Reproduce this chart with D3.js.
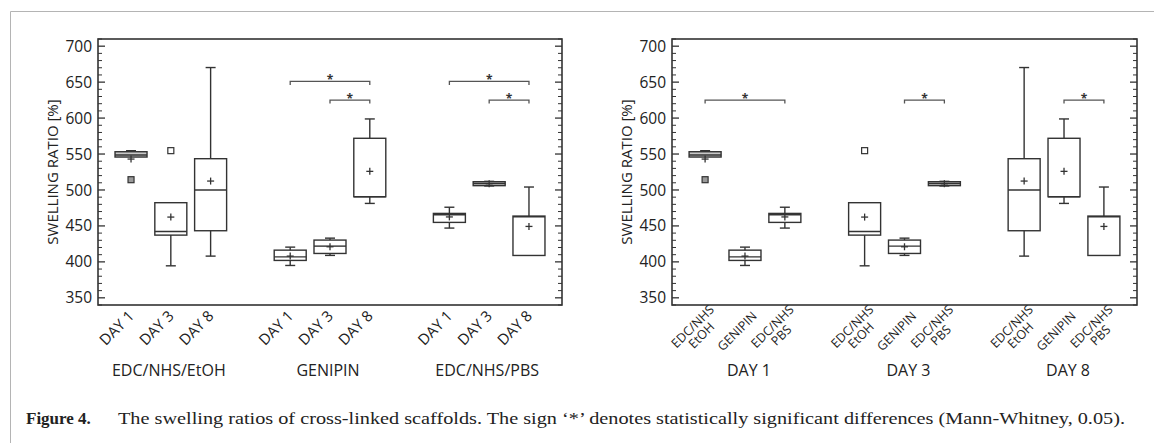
<!DOCTYPE html>
<html><head><meta charset="utf-8">
<script src="https://cdn.jsdelivr.net/npm/d3@7"></script>
<style>
html,body{margin:0;padding:0;background:#fff;}
svg{display:block;}
</style></head>
<body>
<svg id="chart" width="1154" height="443"></svg>
<script>
// ---- data (order: EtOH D1, D3, D8, GENIPIN D1, D3, D8, PBS D1, D3, D8) ----
const treatments = ["EDC/NHS/EtOH", "GENIPIN", "EDC/NHS/PBS"];
const days = ["DAY 1", "DAY 3", "DAY 8"];
const whiskerLow  = [545.8, 394.5, 408.0, 395.0, 409.0, 481.3, 447.0, 505.6, 408.9];
const q1          = [545.8, 437.2, 443.3, 402.0, 411.7, 490.6, 454.9, 506.0, 408.9];
const median      = [548.6, 442.3, 500.0, 407.0, 421.9, 490.6, 465.5, 509.0, 462.7];
const q3          = [553.2, 482.3, 543.5, 416.3, 430.3, 571.9, 467.4, 511.5, 463.7];
const whiskerHigh = [554.6, 482.3, 670.3, 420.5, 433.0, 598.8, 476.0, 512.0, 504.1];
const means       = [543.0, 462.3, 512.4, 408.0, 421.0, 525.9, 462.5, 508.7, 449.3];
const outliers    = [[514.3], [554.7], [], [], [], [], [], [], []];
const yTicks = [350, 400, 450, 500, 550, 600, 650, 700];
const yTitle = "SWELLING RATIO [%]";
// right panel: grouped by day
const rightTickLabels = [["EDC/NHS","EtOH"], ["GENIPIN"], ["EDC/NHS","PBS"]];
// significance brackets: [from index, to index, level value]
const bracketsLeft  = [[3, 5, 651], [4, 5, 625], [6, 8, 651], [7, 8, 625]];
const bracketsRight = [[0, 6, 625], [4, 7, 625], [5, 8, 625]]; // in dataset indices
const caption1 = "Figure 4.";
const caption2 = "The swelling ratios of cross-linked scaffolds. The sign \u2018*\u2019 denotes statistically significant differences (Mann-Whitney, 0.05).";

// ---- layout ----
const svg = d3.select("#chart");
const Y0 = 39, Y1 = 305;
const y = d3.scaleLinear().domain([340, 710]).range([Y1, Y0]);
const lineCol = "#333", textCol = "#222";
const font = "'Open Sans', 'DejaVu Sans', sans-serif";

// outer frame lines
svg.append("line").attr("x1", 10.5).attr("x2", 1154).attr("y1", 11.5).attr("y2", 11.5).attr("stroke", "#b4b4b4").attr("stroke-width", 1);
svg.append("line").attr("x1", 10.5).attr("x2", 10.5).attr("y1", 11.5).attr("y2", 443).attr("stroke", "#b4b4b4").attr("stroke-width", 1);

function drawPanel(X0, X1, slotOf, tickFn, groupLabels, brackets) {
  const g = svg.append("g");
  const x = d3.scalePoint().domain(d3.range(11)).range([X0, X1]).padding(0.83);
  g.append("rect").attr("x", X0).attr("y", Y0).attr("width", X1 - X0).attr("height", Y1 - Y0)
    .attr("fill", "none").attr("stroke", lineCol).attr("stroke-width", 1.6);
  const minor = d3.range(340, 711, 10).filter(v => v % 50 !== 0);
  const tk = g.append("g");
  [[X0, 1], [X1, -1]].forEach(([xe, dir]) => {
    tk.selectAll(null).data(yTicks).join("line")
      .attr("x1", xe).attr("x2", xe + dir * 7).attr("y1", d => y(d)).attr("y2", d => y(d))
      .attr("stroke", lineCol).attr("stroke-width", 1.3);
    tk.selectAll(null).data(minor).join("line")
      .attr("x1", xe).attr("x2", xe + dir * 4).attr("y1", d => y(d)).attr("y2", d => y(d))
      .attr("stroke", lineCol).attr("stroke-width", 1);
  });
  g.selectAll(null).data(yTicks).join("text")
    .attr("x", X0 - 6).attr("y", d => y(d)).attr("dy", "0.36em")
    .attr("text-anchor", "end").attr("font-family", font).attr("font-size", 15.5).attr("fill", textCol)
    .text(d => d);
  g.append("text").attr("transform", `translate(${X0 - 45},${(Y0 + Y1) / 2}) rotate(-90)`)
    .attr("text-anchor", "middle").attr("dy", "0.35em").attr("font-family", font).attr("font-size", 15)
    .attr("fill", textCol).text(yTitle);

  const bw = 32, cw = 10;
  const bx = i => x(slotOf[i]);
  d3.range(9).forEach(i => {
    const cx = bx(i);
    const gg = g.append("g").attr("stroke", lineCol).attr("fill", "none").attr("stroke-width", 1.4);
    if (whiskerHigh[i] > q3[i]) {
      gg.append("line").attr("x1", cx).attr("x2", cx).attr("y1", y(q3[i])).attr("y2", y(whiskerHigh[i]));
      gg.append("line").attr("x1", cx - cw / 2).attr("x2", cx + cw / 2).attr("y1", y(whiskerHigh[i])).attr("y2", y(whiskerHigh[i]));
    }
    if (whiskerLow[i] < q1[i]) {
      gg.append("line").attr("x1", cx).attr("x2", cx).attr("y1", y(q1[i])).attr("y2", y(whiskerLow[i]));
      gg.append("line").attr("x1", cx - cw / 2).attr("x2", cx + cw / 2).attr("y1", y(whiskerLow[i])).attr("y2", y(whiskerLow[i]));
    }
    gg.append("rect").attr("x", cx - bw / 2).attr("y", y(q3[i])).attr("width", bw).attr("height", y(q1[i]) - y(q3[i]))
      .attr("fill", (q3[i] - q1[i]) < 10 ? "#c8c8c8" : "none");
    gg.append("line").attr("x1", cx - bw / 2).attr("x2", cx + bw / 2).attr("y1", y(median[i])).attr("y2", y(median[i]));
    const my = y(means[i]);
    gg.append("line").attr("x1", cx - 3.5).attr("x2", cx + 3.5).attr("y1", my).attr("y2", my).attr("stroke-width", 1.3);
    gg.append("line").attr("x1", cx).attr("x2", cx).attr("y1", my - 3.5).attr("y2", my + 3.5).attr("stroke-width", 1.3);
    outliers[i].forEach(o => {
      gg.append("rect").attr("x", cx - 3).attr("y", y(o) - 3).attr("width", 6).attr("height", 6)
        .attr("stroke-width", 1.2).attr("fill", i === 0 ? "#9a9a9a" : "#fff");
    });
  });

  tickFn(g, i => bx(i));
  groupLabels.forEach(([label, cx]) => {
    g.append("text").attr("x", cx).attr("y", 376).attr("text-anchor", "middle")
      .attr("font-family", font).attr("font-size", 16).attr("fill", textCol).text(label);
  });
  brackets.forEach(([a, b, lv]) => {
    const xa = bx(a), xb = bx(b), yy = y(lv);
    g.append("path").attr("d", `M${xa},${yy + 3.5}V${yy}H${xb}V${yy + 3.5}`)
      .attr("fill", "none").attr("stroke", "#555").attr("stroke-width", 1.3);
    g.append("text").attr("x", (xa + xb) / 2).attr("y", yy + 3).attr("text-anchor", "middle")
      .attr("font-family", font).attr("font-size", 12).attr("font-weight", "bold").attr("fill", "#333").text("*");
  });
  return x;
}

// left panel: grouped by treatment
const slotsLeft = [0, 1, 2, 4, 5, 6, 8, 9, 10];
const xsL = d3.scalePoint().domain(d3.range(11)).range([98, 562]).padding(0.83);
drawPanel(98, 562, slotsLeft, (g, bx) => {
  d3.range(9).forEach(i => {
    g.append("text").attr("transform", `translate(${bx(i) + 4},317) rotate(-45)`)
      .attr("text-anchor", "end").attr("font-family", font).attr("font-size", 15).attr("fill", textCol)
      .text(days[i % 3]);
  });
}, treatments.map((t, k) => [t, xsL(slotsLeft[k * 3 + 1]) - 2]), bracketsLeft);

// right panel: grouped by day; slot for dataset i = day*4 + treatment
const slotsRight = d3.range(9).map(i => (i % 3) * 4 + Math.floor(i / 3));
const xsR = d3.scalePoint().domain(d3.range(11)).range([672, 1137]).padding(0.83);
drawPanel(672, 1137, slotsRight, (g, bx) => {
  d3.range(9).forEach(i => {
    const lines = rightTickLabels[Math.floor(i / 3)];
    const t = g.append("text").attr("transform", `translate(${bx(i) - 8},331) rotate(-45)`)
      .attr("text-anchor", "middle").attr("font-family", font).attr("font-size", 12.5).attr("fill", textCol);
    if (lines.length === 1) {
      t.append("tspan").attr("x", 0).attr("y", 4.5).text(lines[0]);
    } else {
      t.append("tspan").attr("x", 0).attr("y", -2).text(lines[0]);
      t.append("tspan").attr("x", 0).attr("y", 10.5).text(lines[1]);
    }
  });
}, days.map((d, k) => [d, xsR(k * 4 + 1) + 4]), bracketsRight);

// caption
const serif = "'Liberation Serif', 'DejaVu Serif', serif";
svg.append("text").attr("x", 26).attr("y", 424).attr("font-family", serif).attr("font-weight", "bold")
  .attr("font-size", 17).attr("fill", "#222").text(caption1);
svg.append("text").attr("x", 118).attr("y", 424).attr("font-family", serif)
  .attr("font-size", 17).attr("fill", "#222").attr("textLength", 1125 - 118).attr("lengthAdjust", "spacingAndGlyphs")
  .text(caption2);
</script>
</body></html>
